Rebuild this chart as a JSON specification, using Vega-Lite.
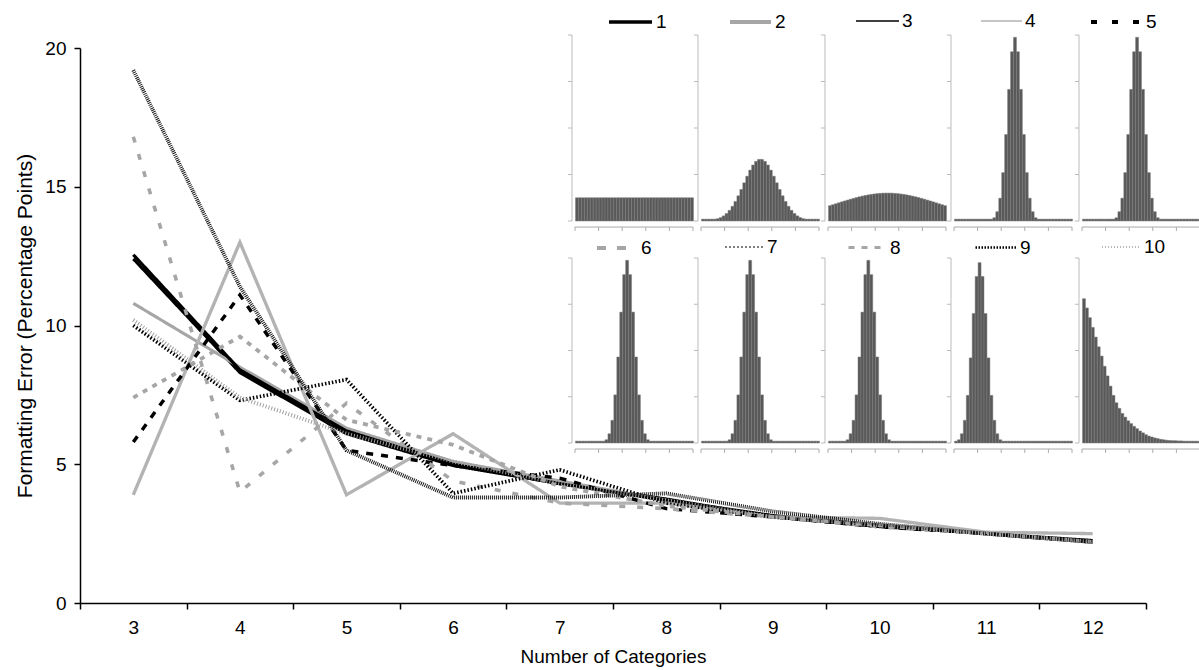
{
"$schema": "https://vega.github.io/schema/vega-lite/v6.json",
"autosize": {"type": "none"},
"padding": {"left": 80, "top": 48, "right": 53, "bottom": 67},
"width": 1066, "height": 555,
"background": "white",
"config": {"view": {"stroke": null}, "font": "Liberation Sans", "axis": {"labelFont": "Liberation Sans", "titleFont": "Liberation Sans", "grid": false}, "legend": {"labelFont": "Liberation Sans", "labelFontSize": 19, "labelColor": "#000000", "labelOffset": 2}},
"datasets": {
"yt": [{"t":0},{"t":1},{"t":2},{"t":3},{"t":4}],
"xt": [{"t":0},{"t":8},{"t":16},{"t":24},{"t":32},{"t":40}],
"lines": [
{"s":"1","n":3,"e":12.4},{"s":"1","n":4,"e":8.3},{"s":"1","n":5,"e":6.1},{"s":"1","n":6,"e":4.95},{"s":"1","n":7,"e":4.3},{"s":"1","n":8,"e":3.75},{"s":"1","n":9,"e":3.1},{"s":"1","n":10,"e":2.75},{"s":"1","n":11,"e":2.5},{"s":"1","n":12,"e":2.2},
{"s":"2","n":3,"e":10.8},{"s":"2","n":4,"e":8.5},{"s":"2","n":5,"e":6.3},{"s":"2","n":6,"e":5.1},{"s":"2","n":7,"e":4.4},{"s":"2","n":8,"e":3.7},{"s":"2","n":9,"e":3.1},{"s":"2","n":10,"e":2.8},{"s":"2","n":11,"e":2.5},{"s":"2","n":12,"e":2.2},
{"s":"3","n":3,"e":12.55},{"s":"3","n":4,"e":8.4},{"s":"3","n":5,"e":6.2},{"s":"3","n":6,"e":5.0},{"s":"3","n":7,"e":4.3},{"s":"3","n":8,"e":3.7},{"s":"3","n":9,"e":3.15},{"s":"3","n":10,"e":2.8},{"s":"3","n":11,"e":2.5},{"s":"3","n":12,"e":2.25},
{"s":"4","n":3,"e":3.9},{"s":"4","n":4,"e":13.0},{"s":"4","n":5,"e":3.9},{"s":"4","n":6,"e":6.1},{"s":"4","n":7,"e":3.6},{"s":"4","n":8,"e":3.6},{"s":"4","n":9,"e":3.1},{"s":"4","n":10,"e":3.05},{"s":"4","n":11,"e":2.55},{"s":"4","n":12,"e":2.5},
{"s":"5","n":3,"e":5.8},{"s":"5","n":4,"e":11.1},{"s":"5","n":5,"e":5.5},{"s":"5","n":6,"e":4.95},{"s":"5","n":7,"e":4.5},{"s":"5","n":8,"e":3.4},{"s":"5","n":9,"e":3.1},{"s":"5","n":10,"e":2.75},{"s":"5","n":11,"e":2.5},{"s":"5","n":12,"e":2.2},
{"s":"6","n":3,"e":16.8},{"s":"6","n":4,"e":4.0},{"s":"6","n":5,"e":7.2},{"s":"6","n":6,"e":4.4},{"s":"6","n":7,"e":3.6},{"s":"6","n":8,"e":3.4},{"s":"6","n":9,"e":3.1},{"s":"6","n":10,"e":2.75},{"s":"6","n":11,"e":2.5},{"s":"6","n":12,"e":2.2},
{"s":"7","n":3,"e":10.0},{"s":"7","n":4,"e":7.3},{"s":"7","n":5,"e":8.05},{"s":"7","n":6,"e":3.95},{"s":"7","n":7,"e":4.8},{"s":"7","n":8,"e":3.6},{"s":"7","n":9,"e":3.1},{"s":"7","n":10,"e":2.8},{"s":"7","n":11,"e":2.5},{"s":"7","n":12,"e":2.2},
{"s":"8","n":3,"e":7.4},{"s":"8","n":4,"e":9.6},{"s":"8","n":5,"e":6.6},{"s":"8","n":6,"e":5.7},{"s":"8","n":7,"e":4.2},{"s":"8","n":8,"e":3.5},{"s":"8","n":9,"e":3.1},{"s":"8","n":10,"e":2.8},{"s":"8","n":11,"e":2.5},{"s":"8","n":12,"e":2.2},
{"s":"9","n":3,"e":19.2},{"s":"9","n":4,"e":11.4},{"s":"9","n":5,"e":5.5},{"s":"9","n":6,"e":3.8},{"s":"9","n":7,"e":3.8},{"s":"9","n":8,"e":3.95},{"s":"9","n":9,"e":3.3},{"s":"9","n":10,"e":2.85},{"s":"9","n":11,"e":2.5},{"s":"9","n":12,"e":2.2},
{"s":"10","n":3,"e":10.2},{"s":"10","n":4,"e":7.4},{"s":"10","n":5,"e":6.1},{"s":"10","n":6,"e":5.1},{"s":"10","n":7,"e":4.3},{"s":"10","n":8,"e":3.7},{"s":"10","n":9,"e":3.1},{"s":"10","n":10,"e":2.8},{"s":"10","n":11,"e":2.5},{"s":"10","n":12,"e":2.2}
],
"hist": [
{"d":1,"k":0,"v":0.5},{"d":1,"k":1,"v":0.5},{"d":1,"k":2,"v":0.5},{"d":1,"k":3,"v":0.5},{"d":1,"k":4,"v":0.5},{"d":1,"k":5,"v":0.5},{"d":1,"k":6,"v":0.5},{"d":1,"k":7,"v":0.5},{"d":1,"k":8,"v":0.5},{"d":1,"k":9,"v":0.5},{"d":1,"k":10,"v":0.5},{"d":1,"k":11,"v":0.5},{"d":1,"k":12,"v":0.5},{"d":1,"k":13,"v":0.5},{"d":1,"k":14,"v":0.5},{"d":1,"k":15,"v":0.5},{"d":1,"k":16,"v":0.5},{"d":1,"k":17,"v":0.5},{"d":1,"k":18,"v":0.5},{"d":1,"k":19,"v":0.5},{"d":1,"k":20,"v":0.5},{"d":1,"k":21,"v":0.5},{"d":1,"k":22,"v":0.5},{"d":1,"k":23,"v":0.5},{"d":1,"k":24,"v":0.5},{"d":1,"k":25,"v":0.5},{"d":1,"k":26,"v":0.5},{"d":1,"k":27,"v":0.5},{"d":1,"k":28,"v":0.5},{"d":1,"k":29,"v":0.5},{"d":1,"k":30,"v":0.5},{"d":1,"k":31,"v":0.5},{"d":1,"k":32,"v":0.5},{"d":1,"k":33,"v":0.5},{"d":1,"k":34,"v":0.5},{"d":1,"k":35,"v":0.5},{"d":1,"k":36,"v":0.5},{"d":1,"k":37,"v":0.5},{"d":1,"k":38,"v":0.5},{"d":1,"k":39,"v":0.5},
{"d":2,"k":0,"v":0.04},{"d":2,"k":1,"v":0.04},{"d":2,"k":2,"v":0.04},{"d":2,"k":3,"v":0.04},{"d":2,"k":4,"v":0.04},{"d":2,"k":5,"v":0.05},{"d":2,"k":6,"v":0.073},{"d":2,"k":7,"v":0.11},{"d":2,"k":8,"v":0.161},{"d":2,"k":9,"v":0.229},{"d":2,"k":10,"v":0.316},{"d":2,"k":11,"v":0.42},{"d":2,"k":12,"v":0.542},{"d":2,"k":13,"v":0.678},{"d":2,"k":14,"v":0.821},{"d":2,"k":15,"v":0.963},{"d":2,"k":16,"v":1.094},{"d":2,"k":17,"v":1.204},{"d":2,"k":18,"v":1.283},{"d":2,"k":19,"v":1.325},{"d":2,"k":20,"v":1.325},{"d":2,"k":21,"v":1.283},{"d":2,"k":22,"v":1.204},{"d":2,"k":23,"v":1.094},{"d":2,"k":24,"v":0.963},{"d":2,"k":25,"v":0.821},{"d":2,"k":26,"v":0.678},{"d":2,"k":27,"v":0.542},{"d":2,"k":28,"v":0.42},{"d":2,"k":29,"v":0.316},{"d":2,"k":30,"v":0.229},{"d":2,"k":31,"v":0.161},{"d":2,"k":32,"v":0.11},{"d":2,"k":33,"v":0.073},{"d":2,"k":34,"v":0.05},{"d":2,"k":35,"v":0.04},{"d":2,"k":36,"v":0.04},{"d":2,"k":37,"v":0.04},{"d":2,"k":38,"v":0.04},{"d":2,"k":39,"v":0.04},
{"d":3,"k":0,"v":0.33},{"d":3,"k":1,"v":0.35},{"d":3,"k":2,"v":0.37},{"d":3,"k":3,"v":0.391},{"d":3,"k":4,"v":0.411},{"d":3,"k":5,"v":0.431},{"d":3,"k":6,"v":0.45},{"d":3,"k":7,"v":0.469},{"d":3,"k":8,"v":0.487},{"d":3,"k":9,"v":0.504},{"d":3,"k":10,"v":0.52},{"d":3,"k":11,"v":0.535},{"d":3,"k":12,"v":0.549},{"d":3,"k":13,"v":0.561},{"d":3,"k":14,"v":0.572},{"d":3,"k":15,"v":0.581},{"d":3,"k":16,"v":0.589},{"d":3,"k":17,"v":0.594},{"d":3,"k":18,"v":0.599},{"d":3,"k":19,"v":0.6},{"d":3,"k":20,"v":0.6},{"d":3,"k":21,"v":0.599},{"d":3,"k":22,"v":0.594},{"d":3,"k":23,"v":0.589},{"d":3,"k":24,"v":0.581},{"d":3,"k":25,"v":0.572},{"d":3,"k":26,"v":0.561},{"d":3,"k":27,"v":0.549},{"d":3,"k":28,"v":0.535},{"d":3,"k":29,"v":0.52},{"d":3,"k":30,"v":0.504},{"d":3,"k":31,"v":0.487},{"d":3,"k":32,"v":0.469},{"d":3,"k":33,"v":0.45},{"d":3,"k":34,"v":0.431},{"d":3,"k":35,"v":0.411},{"d":3,"k":36,"v":0.391},{"d":3,"k":37,"v":0.37},{"d":3,"k":38,"v":0.35},{"d":3,"k":39,"v":0.33},
{"d":4,"k":0,"v":0.04},{"d":4,"k":1,"v":0.04},{"d":4,"k":2,"v":0.04},{"d":4,"k":3,"v":0.04},{"d":4,"k":4,"v":0.04},{"d":4,"k":5,"v":0.04},{"d":4,"k":6,"v":0.04},{"d":4,"k":7,"v":0.04},{"d":4,"k":8,"v":0.04},{"d":4,"k":9,"v":0.04},{"d":4,"k":10,"v":0.04},{"d":4,"k":11,"v":0.04},{"d":4,"k":12,"v":0.04},{"d":4,"k":13,"v":0.07},{"d":4,"k":14,"v":0.2},{"d":4,"k":15,"v":0.49},{"d":4,"k":16,"v":1.04},{"d":4,"k":17,"v":1.86},{"d":4,"k":18,"v":2.83},{"d":4,"k":19,"v":3.64},{"d":4,"k":20,"v":3.95},{"d":4,"k":21,"v":3.64},{"d":4,"k":22,"v":2.83},{"d":4,"k":23,"v":1.86},{"d":4,"k":24,"v":1.04},{"d":4,"k":25,"v":0.49},{"d":4,"k":26,"v":0.2},{"d":4,"k":27,"v":0.07},{"d":4,"k":28,"v":0.04},{"d":4,"k":29,"v":0.04},{"d":4,"k":30,"v":0.04},{"d":4,"k":31,"v":0.04},{"d":4,"k":32,"v":0.04},{"d":4,"k":33,"v":0.04},{"d":4,"k":34,"v":0.04},{"d":4,"k":35,"v":0.04},{"d":4,"k":36,"v":0.04},{"d":4,"k":37,"v":0.04},{"d":4,"k":38,"v":0.04},{"d":4,"k":39,"v":0.04},
{"d":5,"k":0,"v":0.04},{"d":5,"k":1,"v":0.04},{"d":5,"k":2,"v":0.04},{"d":5,"k":3,"v":0.04},{"d":5,"k":4,"v":0.04},{"d":5,"k":5,"v":0.04},{"d":5,"k":6,"v":0.04},{"d":5,"k":7,"v":0.04},{"d":5,"k":8,"v":0.04},{"d":5,"k":9,"v":0.04},{"d":5,"k":10,"v":0.04},{"d":5,"k":11,"v":0.07},{"d":5,"k":12,"v":0.2},{"d":5,"k":13,"v":0.49},{"d":5,"k":14,"v":1.04},{"d":5,"k":15,"v":1.86},{"d":5,"k":16,"v":2.83},{"d":5,"k":17,"v":3.64},{"d":5,"k":18,"v":3.95},{"d":5,"k":19,"v":3.64},{"d":5,"k":20,"v":2.83},{"d":5,"k":21,"v":1.86},{"d":5,"k":22,"v":1.04},{"d":5,"k":23,"v":0.49},{"d":5,"k":24,"v":0.2},{"d":5,"k":25,"v":0.07},{"d":5,"k":26,"v":0.04},{"d":5,"k":27,"v":0.04},{"d":5,"k":28,"v":0.04},{"d":5,"k":29,"v":0.04},{"d":5,"k":30,"v":0.04},{"d":5,"k":31,"v":0.04},{"d":5,"k":32,"v":0.04},{"d":5,"k":33,"v":0.04},{"d":5,"k":34,"v":0.04},{"d":5,"k":35,"v":0.04},{"d":5,"k":36,"v":0.04},{"d":5,"k":37,"v":0.04},{"d":5,"k":38,"v":0.04},{"d":5,"k":39,"v":0.04},
{"d":6,"k":0,"v":0.04},{"d":6,"k":1,"v":0.04},{"d":6,"k":2,"v":0.04},{"d":6,"k":3,"v":0.04},{"d":6,"k":4,"v":0.04},{"d":6,"k":5,"v":0.04},{"d":6,"k":6,"v":0.04},{"d":6,"k":7,"v":0.04},{"d":6,"k":8,"v":0.04},{"d":6,"k":9,"v":0.04},{"d":6,"k":10,"v":0.07},{"d":6,"k":11,"v":0.2},{"d":6,"k":12,"v":0.49},{"d":6,"k":13,"v":1.04},{"d":6,"k":14,"v":1.86},{"d":6,"k":15,"v":2.83},{"d":6,"k":16,"v":3.64},{"d":6,"k":17,"v":3.95},{"d":6,"k":18,"v":3.64},{"d":6,"k":19,"v":2.83},{"d":6,"k":20,"v":1.86},{"d":6,"k":21,"v":1.04},{"d":6,"k":22,"v":0.49},{"d":6,"k":23,"v":0.2},{"d":6,"k":24,"v":0.07},{"d":6,"k":25,"v":0.04},{"d":6,"k":26,"v":0.04},{"d":6,"k":27,"v":0.04},{"d":6,"k":28,"v":0.04},{"d":6,"k":29,"v":0.04},{"d":6,"k":30,"v":0.04},{"d":6,"k":31,"v":0.04},{"d":6,"k":32,"v":0.04},{"d":6,"k":33,"v":0.04},{"d":6,"k":34,"v":0.04},{"d":6,"k":35,"v":0.04},{"d":6,"k":36,"v":0.04},{"d":6,"k":37,"v":0.04},{"d":6,"k":38,"v":0.04},{"d":6,"k":39,"v":0.04},
{"d":7,"k":0,"v":0.04},{"d":7,"k":1,"v":0.04},{"d":7,"k":2,"v":0.04},{"d":7,"k":3,"v":0.04},{"d":7,"k":4,"v":0.04},{"d":7,"k":5,"v":0.04},{"d":7,"k":6,"v":0.04},{"d":7,"k":7,"v":0.04},{"d":7,"k":8,"v":0.04},{"d":7,"k":9,"v":0.07},{"d":7,"k":10,"v":0.2},{"d":7,"k":11,"v":0.49},{"d":7,"k":12,"v":1.04},{"d":7,"k":13,"v":1.86},{"d":7,"k":14,"v":2.83},{"d":7,"k":15,"v":3.64},{"d":7,"k":16,"v":3.95},{"d":7,"k":17,"v":3.64},{"d":7,"k":18,"v":2.83},{"d":7,"k":19,"v":1.86},{"d":7,"k":20,"v":1.04},{"d":7,"k":21,"v":0.49},{"d":7,"k":22,"v":0.2},{"d":7,"k":23,"v":0.07},{"d":7,"k":24,"v":0.04},{"d":7,"k":25,"v":0.04},{"d":7,"k":26,"v":0.04},{"d":7,"k":27,"v":0.04},{"d":7,"k":28,"v":0.04},{"d":7,"k":29,"v":0.04},{"d":7,"k":30,"v":0.04},{"d":7,"k":31,"v":0.04},{"d":7,"k":32,"v":0.04},{"d":7,"k":33,"v":0.04},{"d":7,"k":34,"v":0.04},{"d":7,"k":35,"v":0.04},{"d":7,"k":36,"v":0.04},{"d":7,"k":37,"v":0.04},{"d":7,"k":38,"v":0.04},{"d":7,"k":39,"v":0.04},
{"d":8,"k":0,"v":0.04},{"d":8,"k":1,"v":0.04},{"d":8,"k":2,"v":0.04},{"d":8,"k":3,"v":0.04},{"d":8,"k":4,"v":0.04},{"d":8,"k":5,"v":0.04},{"d":8,"k":6,"v":0.07},{"d":8,"k":7,"v":0.2},{"d":8,"k":8,"v":0.49},{"d":8,"k":9,"v":1.04},{"d":8,"k":10,"v":1.86},{"d":8,"k":11,"v":2.83},{"d":8,"k":12,"v":3.64},{"d":8,"k":13,"v":3.95},{"d":8,"k":14,"v":3.64},{"d":8,"k":15,"v":2.83},{"d":8,"k":16,"v":1.86},{"d":8,"k":17,"v":1.04},{"d":8,"k":18,"v":0.49},{"d":8,"k":19,"v":0.2},{"d":8,"k":20,"v":0.07},{"d":8,"k":21,"v":0.04},{"d":8,"k":22,"v":0.04},{"d":8,"k":23,"v":0.04},{"d":8,"k":24,"v":0.04},{"d":8,"k":25,"v":0.04},{"d":8,"k":26,"v":0.04},{"d":8,"k":27,"v":0.04},{"d":8,"k":28,"v":0.04},{"d":8,"k":29,"v":0.04},{"d":8,"k":30,"v":0.04},{"d":8,"k":31,"v":0.04},{"d":8,"k":32,"v":0.04},{"d":8,"k":33,"v":0.04},{"d":8,"k":34,"v":0.04},{"d":8,"k":35,"v":0.04},{"d":8,"k":36,"v":0.04},{"d":8,"k":37,"v":0.04},{"d":8,"k":38,"v":0.04},{"d":8,"k":39,"v":0.04},
{"d":9,"k":0,"v":0.04},{"d":9,"k":1,"v":0.07},{"d":9,"k":2,"v":0.2},{"d":9,"k":3,"v":0.49},{"d":9,"k":4,"v":1.03},{"d":9,"k":5,"v":1.84},{"d":9,"k":6,"v":2.8},{"d":9,"k":7,"v":3.6},{"d":9,"k":8,"v":3.9},{"d":9,"k":9,"v":3.6},{"d":9,"k":10,"v":2.8},{"d":9,"k":11,"v":1.84},{"d":9,"k":12,"v":1.03},{"d":9,"k":13,"v":0.49},{"d":9,"k":14,"v":0.2},{"d":9,"k":15,"v":0.07},{"d":9,"k":16,"v":0.04},{"d":9,"k":17,"v":0.04},{"d":9,"k":18,"v":0.04},{"d":9,"k":19,"v":0.04},{"d":9,"k":20,"v":0.04},{"d":9,"k":21,"v":0.04},{"d":9,"k":22,"v":0.04},{"d":9,"k":23,"v":0.04},{"d":9,"k":24,"v":0.04},{"d":9,"k":25,"v":0.04},{"d":9,"k":26,"v":0.04},{"d":9,"k":27,"v":0.04},{"d":9,"k":28,"v":0.04},{"d":9,"k":29,"v":0.04},{"d":9,"k":30,"v":0.04},{"d":9,"k":31,"v":0.04},{"d":9,"k":32,"v":0.04},{"d":9,"k":33,"v":0.04},{"d":9,"k":34,"v":0.04},{"d":9,"k":35,"v":0.04},{"d":9,"k":36,"v":0.04},{"d":9,"k":37,"v":0.04},{"d":9,"k":38,"v":0.04},{"d":9,"k":39,"v":0.04},
{"d":10,"k":0,"v":3.12},{"d":10,"k":1,"v":2.92},{"d":10,"k":2,"v":2.71},{"d":10,"k":3,"v":2.5},{"d":10,"k":4,"v":2.29},{"d":10,"k":5,"v":2.08},{"d":10,"k":6,"v":1.88},{"d":10,"k":7,"v":1.66},{"d":10,"k":8,"v":1.45},{"d":10,"k":9,"v":1.23},{"d":10,"k":10,"v":1.03},{"d":10,"k":11,"v":0.87},{"d":10,"k":12,"v":0.75},{"d":10,"k":13,"v":0.64},{"d":10,"k":14,"v":0.56},{"d":10,"k":15,"v":0.48},{"d":10,"k":16,"v":0.42},{"d":10,"k":17,"v":0.36},{"d":10,"k":18,"v":0.31},{"d":10,"k":19,"v":0.26},{"d":10,"k":20,"v":0.22},{"d":10,"k":21,"v":0.18},{"d":10,"k":22,"v":0.15},{"d":10,"k":23,"v":0.13},{"d":10,"k":24,"v":0.11},{"d":10,"k":25,"v":0.095},{"d":10,"k":26,"v":0.08},{"d":10,"k":27,"v":0.07},{"d":10,"k":28,"v":0.06},{"d":10,"k":29,"v":0.055},{"d":10,"k":30,"v":0.05},{"d":10,"k":31,"v":0.05},{"d":10,"k":32,"v":0.045},{"d":10,"k":33,"v":0.045},{"d":10,"k":34,"v":0.04},{"d":10,"k":35,"v":0.04},{"d":10,"k":36,"v":0.04},{"d":10,"k":37,"v":0.04},{"d":10,"k":38,"v":0.04},{"d":10,"k":39,"v":0.04}
]
},
"resolve": {"scale": {"x": "independent", "y": "independent", "stroke": "independent"}, "legend": {"stroke": "independent"}},
"layer": [
{
"data": {"name": "lines"},
"mark": {"type": "line", "strokeCap": "butt"},
"encoding": {
"x": {"field": "n", "type": "ordinal", "scale": {"domain": [3,4,5,6,7,8,9,10,11,12], "paddingInner": 0, "paddingOuter": 0}, "axis": {"title": "Number of Categories", "labelAngle": 0, "tickBand": "extent", "tickSize": 6, "tickColor": "#000000", "tickWidth": 1.5, "domainColor": "#000000", "domainWidth": 1.5, "labelFontSize": 19, "titleFontSize": 19, "titleFontWeight": "normal", "labelPadding": 9, "titlePadding": 10, "labelColor": "#000000", "titleColor": "#000000"}},
"y": {"field": "e", "type": "quantitative", "scale": {"domain": [0, 20]}, "axis": {"title": "Formatting Error (Percentage Points)", "values": [0,5,10,15,20], "tickSize": 6, "tickColor": "#000000", "tickWidth": 1.5, "domainColor": "#000000", "domainWidth": 1.5, "labelFontSize": 19, "titleFontSize": 21, "titleFontWeight": "normal", "labelPadding": 8, "titlePadding": 9, "labelColor": "#000000", "titleColor": "#000000"}},
"color": {"field": "s", "type": "nominal", "scale": {"domain": ["1","2","3","4","5","6","7","8","9","10"], "range": ["#000000","#a6a6a6","#000000","#b3b3b3","#000000","#a6a6a6","#000000","#a6a6a6","#1a1a1a","#a0a0a0"]}, "legend": null},
"strokeDash": {"field": "s", "type": "nominal", "scale": {"domain": ["1","2","3","4","5","6","7","8","9","10"], "range": [[1,0],[1,0],[1,0],[1,0],[7,8],[6,12],[1.5,2],[5,6],[1,1],[1,2]]}, "legend": null},
"strokeWidth": {"field": "s", "type": "ordinal", "scale": {"domain": ["1","2","3","4","5","6","7","8","9","10"], "range": [3,4,1.3,1.3,3.5,3.5,1.1,2.5,2.5,1.3]}, "legend": null}
}
},
{"layer":[
{"data":{"name":"hist"},"transform":[{"filter":"datum.d == 1"}],"mark":{"type":"bar","fill":"#595959","stroke":"#7d7d7d","strokeWidth":0.5,"binSpacing":0},"encoding":{"x":{"field":"k","type":"quantitative","bin":{"binned":true,"step":1},"scale":{"domain":[0,40],"range":[495,613]},"axis":null},"y":{"field":"v","type":"quantitative","scale":{"domain":[0,4],"range":[173,-13]},"axis":null}}},
{"data":{"name":"yt"},"mark":{"type":"rule","color":"#bbbbbb"},"encoding":{"x":{"datum":-1.02,"type":"quantitative","scale":{"domain":[0,40],"range":[495,613]},"axis":null},"y":{"aggregate":"min","field":"t","type":"quantitative","scale":{"domain":[0,4],"range":[173,-13]},"axis":null},"y2":{"aggregate":"max","field":"t"}}},
{"data":{"name":"yt"},"mark":{"type":"rule","color":"#bbbbbb"},"encoding":{"x":{"datum":-1.02,"type":"quantitative","scale":{"domain":[0,40],"range":[495,613]},"axis":null},"x2":{"datum":-2.4},"y":{"field":"t","type":"quantitative","scale":{"domain":[0,4],"range":[173,-13]},"axis":null}}},
{"data":{"name":"xt"},"mark":{"type":"rule","color":"#aaaaaa"},"encoding":{"x":{"aggregate":"min","field":"t","type":"quantitative","scale":{"domain":[0,40],"range":[495,613]},"axis":null},"x2":{"aggregate":"max","field":"t"},"y":{"datum":-0.13,"type":"quantitative","scale":{"domain":[0,4],"range":[173,-13]},"axis":null}}},
{"data":{"name":"xt"},"mark":{"type":"rule","color":"#aaaaaa"},"encoding":{"x":{"field":"t","type":"quantitative","scale":{"domain":[0,40],"range":[495,613]},"axis":null},"y":{"datum":-0.13,"type":"quantitative","scale":{"domain":[0,4],"range":[173,-13]},"axis":null},"y2":{"datum":-0.215}}},
{"data":{"values":[]},"mark":"line","encoding":{"stroke":{"field":"s","type":"nominal","scale":{"domain":["1"],"range":["#000000"]},"legend":{"orient":"none","legendX":527,"legendY":-49.5,"title":null,"symbolType":"stroke","symbolSize":1849,"symbolStrokeWidth":3.5,"padding":0}}}}]},
{"layer":[
{"data":{"name":"hist"},"transform":[{"filter":"datum.d == 2"}],"mark":{"type":"bar","fill":"#595959","stroke":"#7d7d7d","strokeWidth":0.5,"binSpacing":0},"encoding":{"x":{"field":"k","type":"quantitative","bin":{"binned":true,"step":1},"scale":{"domain":[0,40],"range":[621,739]},"axis":null},"y":{"field":"v","type":"quantitative","scale":{"domain":[0,4],"range":[173,-13]},"axis":null}}},
{"data":{"name":"yt"},"mark":{"type":"rule","color":"#bbbbbb"},"encoding":{"x":{"datum":-1.02,"type":"quantitative","scale":{"domain":[0,40],"range":[621,739]},"axis":null},"y":{"aggregate":"min","field":"t","type":"quantitative","scale":{"domain":[0,4],"range":[173,-13]},"axis":null},"y2":{"aggregate":"max","field":"t"}}},
{"data":{"name":"yt"},"mark":{"type":"rule","color":"#bbbbbb"},"encoding":{"x":{"datum":-1.02,"type":"quantitative","scale":{"domain":[0,40],"range":[621,739]},"axis":null},"x2":{"datum":-2.4},"y":{"field":"t","type":"quantitative","scale":{"domain":[0,4],"range":[173,-13]},"axis":null}}},
{"data":{"name":"xt"},"mark":{"type":"rule","color":"#aaaaaa"},"encoding":{"x":{"aggregate":"min","field":"t","type":"quantitative","scale":{"domain":[0,40],"range":[621,739]},"axis":null},"x2":{"aggregate":"max","field":"t"},"y":{"datum":-0.13,"type":"quantitative","scale":{"domain":[0,4],"range":[173,-13]},"axis":null}}},
{"data":{"name":"xt"},"mark":{"type":"rule","color":"#aaaaaa"},"encoding":{"x":{"field":"t","type":"quantitative","scale":{"domain":[0,40],"range":[621,739]},"axis":null},"y":{"datum":-0.13,"type":"quantitative","scale":{"domain":[0,4],"range":[173,-13]},"axis":null},"y2":{"datum":-0.215}}},
{"data":{"values":[]},"mark":"line","encoding":{"stroke":{"field":"s","type":"nominal","scale":{"domain":["2"],"range":["#a6a6a6"]},"legend":{"orient":"none","legendX":648,"legendY":-48.5,"title":null,"symbolType":"stroke","symbolSize":1681,"symbolStrokeWidth":4,"padding":0}}}}]},
{"layer":[
{"data":{"name":"hist"},"transform":[{"filter":"datum.d == 3"}],"mark":{"type":"bar","fill":"#595959","stroke":"#7d7d7d","strokeWidth":0.5,"binSpacing":0},"encoding":{"x":{"field":"k","type":"quantitative","bin":{"binned":true,"step":1},"scale":{"domain":[0,40],"range":[748,866]},"axis":null},"y":{"field":"v","type":"quantitative","scale":{"domain":[0,4],"range":[173,-13]},"axis":null}}},
{"data":{"name":"yt"},"mark":{"type":"rule","color":"#bbbbbb"},"encoding":{"x":{"datum":-1.02,"type":"quantitative","scale":{"domain":[0,40],"range":[748,866]},"axis":null},"y":{"aggregate":"min","field":"t","type":"quantitative","scale":{"domain":[0,4],"range":[173,-13]},"axis":null},"y2":{"aggregate":"max","field":"t"}}},
{"data":{"name":"yt"},"mark":{"type":"rule","color":"#bbbbbb"},"encoding":{"x":{"datum":-1.02,"type":"quantitative","scale":{"domain":[0,40],"range":[748,866]},"axis":null},"x2":{"datum":-2.4},"y":{"field":"t","type":"quantitative","scale":{"domain":[0,4],"range":[173,-13]},"axis":null}}},
{"data":{"name":"xt"},"mark":{"type":"rule","color":"#aaaaaa"},"encoding":{"x":{"aggregate":"min","field":"t","type":"quantitative","scale":{"domain":[0,40],"range":[748,866]},"axis":null},"x2":{"aggregate":"max","field":"t"},"y":{"datum":-0.13,"type":"quantitative","scale":{"domain":[0,4],"range":[173,-13]},"axis":null}}},
{"data":{"name":"xt"},"mark":{"type":"rule","color":"#aaaaaa"},"encoding":{"x":{"field":"t","type":"quantitative","scale":{"domain":[0,40],"range":[748,866]},"axis":null},"y":{"datum":-0.13,"type":"quantitative","scale":{"domain":[0,4],"range":[173,-13]},"axis":null},"y2":{"datum":-0.215}}},
{"data":{"values":[]},"mark":"line","encoding":{"stroke":{"field":"s","type":"nominal","scale":{"domain":["3"],"range":["#000000"]},"legend":{"orient":"none","legendX":775,"legendY":-49.5,"title":null,"symbolType":"stroke","symbolSize":1849,"symbolStrokeWidth":1.5,"padding":0}}}}]},
{"layer":[
{"data":{"name":"hist"},"transform":[{"filter":"datum.d == 4"}],"mark":{"type":"bar","fill":"#595959","stroke":"#7d7d7d","strokeWidth":0.5,"binSpacing":0},"encoding":{"x":{"field":"k","type":"quantitative","bin":{"binned":true,"step":1},"scale":{"domain":[0,40],"range":[874,992]},"axis":null},"y":{"field":"v","type":"quantitative","scale":{"domain":[0,4],"range":[173,-13]},"axis":null}}},
{"data":{"name":"yt"},"mark":{"type":"rule","color":"#bbbbbb"},"encoding":{"x":{"datum":-1.02,"type":"quantitative","scale":{"domain":[0,40],"range":[874,992]},"axis":null},"y":{"aggregate":"min","field":"t","type":"quantitative","scale":{"domain":[0,4],"range":[173,-13]},"axis":null},"y2":{"aggregate":"max","field":"t"}}},
{"data":{"name":"yt"},"mark":{"type":"rule","color":"#bbbbbb"},"encoding":{"x":{"datum":-1.02,"type":"quantitative","scale":{"domain":[0,40],"range":[874,992]},"axis":null},"x2":{"datum":-2.4},"y":{"field":"t","type":"quantitative","scale":{"domain":[0,4],"range":[173,-13]},"axis":null}}},
{"data":{"name":"xt"},"mark":{"type":"rule","color":"#aaaaaa"},"encoding":{"x":{"aggregate":"min","field":"t","type":"quantitative","scale":{"domain":[0,40],"range":[874,992]},"axis":null},"x2":{"aggregate":"max","field":"t"},"y":{"datum":-0.13,"type":"quantitative","scale":{"domain":[0,4],"range":[173,-13]},"axis":null}}},
{"data":{"name":"xt"},"mark":{"type":"rule","color":"#aaaaaa"},"encoding":{"x":{"field":"t","type":"quantitative","scale":{"domain":[0,40],"range":[874,992]},"axis":null},"y":{"datum":-0.13,"type":"quantitative","scale":{"domain":[0,4],"range":[173,-13]},"axis":null},"y2":{"datum":-0.215}}},
{"data":{"values":[]},"mark":"line","encoding":{"stroke":{"field":"s","type":"nominal","scale":{"domain":["4"],"range":["#b3b3b3"]},"legend":{"orient":"none","legendX":900,"legendY":-48.5,"title":null,"symbolType":"stroke","symbolSize":1681,"symbolStrokeWidth":1.3,"padding":0}}}}]},
{"layer":[
{"data":{"name":"hist"},"transform":[{"filter":"datum.d == 5"}],"mark":{"type":"bar","fill":"#595959","stroke":"#7d7d7d","strokeWidth":0.5,"binSpacing":0},"encoding":{"x":{"field":"k","type":"quantitative","bin":{"binned":true,"step":1},"scale":{"domain":[0,40],"range":[1002,1120]},"axis":null},"y":{"field":"v","type":"quantitative","scale":{"domain":[0,4],"range":[173,-13]},"axis":null}}},
{"data":{"name":"yt"},"mark":{"type":"rule","color":"#bbbbbb"},"encoding":{"x":{"datum":-1.02,"type":"quantitative","scale":{"domain":[0,40],"range":[1002,1120]},"axis":null},"y":{"aggregate":"min","field":"t","type":"quantitative","scale":{"domain":[0,4],"range":[173,-13]},"axis":null},"y2":{"aggregate":"max","field":"t"}}},
{"data":{"name":"yt"},"mark":{"type":"rule","color":"#bbbbbb"},"encoding":{"x":{"datum":-1.02,"type":"quantitative","scale":{"domain":[0,40],"range":[1002,1120]},"axis":null},"x2":{"datum":-2.4},"y":{"field":"t","type":"quantitative","scale":{"domain":[0,4],"range":[173,-13]},"axis":null}}},
{"data":{"name":"xt"},"mark":{"type":"rule","color":"#aaaaaa"},"encoding":{"x":{"aggregate":"min","field":"t","type":"quantitative","scale":{"domain":[0,40],"range":[1002,1120]},"axis":null},"x2":{"aggregate":"max","field":"t"},"y":{"datum":-0.13,"type":"quantitative","scale":{"domain":[0,4],"range":[173,-13]},"axis":null}}},
{"data":{"name":"xt"},"mark":{"type":"rule","color":"#aaaaaa"},"encoding":{"x":{"field":"t","type":"quantitative","scale":{"domain":[0,40],"range":[1002,1120]},"axis":null},"y":{"datum":-0.13,"type":"quantitative","scale":{"domain":[0,4],"range":[173,-13]},"axis":null},"y2":{"datum":-0.215}}},
{"data":{"values":[]},"mark":"line","encoding":{"stroke":{"field":"s","type":"nominal","scale":{"domain":["5"],"range":["#000000"]},"legend":{"orient":"none","legendX":1009,"legendY":-53.5,"title":null,"symbolType":"stroke","symbolSize":2601,"symbolStrokeWidth":4,"symbolDash":[6,15],"padding":0}}}}]},
{"layer":[
{"data":{"name":"hist"},"transform":[{"filter":"datum.d == 6"}],"mark":{"type":"bar","fill":"#595959","stroke":"#7d7d7d","strokeWidth":0.5,"binSpacing":0},"encoding":{"x":{"field":"k","type":"quantitative","bin":{"binned":true,"step":1},"scale":{"domain":[0,40],"range":[495,613]},"axis":null},"y":{"field":"v","type":"quantitative","scale":{"domain":[0,4],"range":[395,210]},"axis":null}}},
{"data":{"name":"yt"},"mark":{"type":"rule","color":"#bbbbbb"},"encoding":{"x":{"datum":-1.02,"type":"quantitative","scale":{"domain":[0,40],"range":[495,613]},"axis":null},"y":{"aggregate":"min","field":"t","type":"quantitative","scale":{"domain":[0,4],"range":[395,210]},"axis":null},"y2":{"aggregate":"max","field":"t"}}},
{"data":{"name":"yt"},"mark":{"type":"rule","color":"#bbbbbb"},"encoding":{"x":{"datum":-1.02,"type":"quantitative","scale":{"domain":[0,40],"range":[495,613]},"axis":null},"x2":{"datum":-2.4},"y":{"field":"t","type":"quantitative","scale":{"domain":[0,4],"range":[395,210]},"axis":null}}},
{"data":{"name":"xt"},"mark":{"type":"rule","color":"#aaaaaa"},"encoding":{"x":{"aggregate":"min","field":"t","type":"quantitative","scale":{"domain":[0,40],"range":[495,613]},"axis":null},"x2":{"aggregate":"max","field":"t"},"y":{"datum":-0.13,"type":"quantitative","scale":{"domain":[0,4],"range":[395,210]},"axis":null}}},
{"data":{"name":"xt"},"mark":{"type":"rule","color":"#aaaaaa"},"encoding":{"x":{"field":"t","type":"quantitative","scale":{"domain":[0,40],"range":[495,613]},"axis":null},"y":{"datum":-0.13,"type":"quantitative","scale":{"domain":[0,4],"range":[395,210]},"axis":null},"y2":{"datum":-0.215}}},
{"data":{"values":[]},"mark":"line","encoding":{"stroke":{"field":"s","type":"nominal","scale":{"domain":["6"],"range":["#a6a6a6"]},"legend":{"orient":"none","legendX":515,"legendY":178,"title":null,"symbolType":"stroke","symbolSize":1600,"symbolStrokeWidth":4,"symbolDash":[9,11],"padding":0}}}}]},
{"layer":[
{"data":{"name":"hist"},"transform":[{"filter":"datum.d == 7"}],"mark":{"type":"bar","fill":"#595959","stroke":"#7d7d7d","strokeWidth":0.5,"binSpacing":0},"encoding":{"x":{"field":"k","type":"quantitative","bin":{"binned":true,"step":1},"scale":{"domain":[0,40],"range":[621,739]},"axis":null},"y":{"field":"v","type":"quantitative","scale":{"domain":[0,4],"range":[395,210]},"axis":null}}},
{"data":{"name":"yt"},"mark":{"type":"rule","color":"#bbbbbb"},"encoding":{"x":{"datum":-1.02,"type":"quantitative","scale":{"domain":[0,40],"range":[621,739]},"axis":null},"y":{"aggregate":"min","field":"t","type":"quantitative","scale":{"domain":[0,4],"range":[395,210]},"axis":null},"y2":{"aggregate":"max","field":"t"}}},
{"data":{"name":"yt"},"mark":{"type":"rule","color":"#bbbbbb"},"encoding":{"x":{"datum":-1.02,"type":"quantitative","scale":{"domain":[0,40],"range":[621,739]},"axis":null},"x2":{"datum":-2.4},"y":{"field":"t","type":"quantitative","scale":{"domain":[0,4],"range":[395,210]},"axis":null}}},
{"data":{"name":"xt"},"mark":{"type":"rule","color":"#aaaaaa"},"encoding":{"x":{"aggregate":"min","field":"t","type":"quantitative","scale":{"domain":[0,40],"range":[621,739]},"axis":null},"x2":{"aggregate":"max","field":"t"},"y":{"datum":-0.13,"type":"quantitative","scale":{"domain":[0,4],"range":[395,210]},"axis":null}}},
{"data":{"name":"xt"},"mark":{"type":"rule","color":"#aaaaaa"},"encoding":{"x":{"field":"t","type":"quantitative","scale":{"domain":[0,40],"range":[621,739]},"axis":null},"y":{"datum":-0.13,"type":"quantitative","scale":{"domain":[0,4],"range":[395,210]},"axis":null},"y2":{"datum":-0.215}}},
{"data":{"values":[]},"mark":"line","encoding":{"stroke":{"field":"s","type":"nominal","scale":{"domain":["7"],"range":["#000000"]},"legend":{"orient":"none","legendX":644,"legendY":178.5,"title":null,"symbolType":"stroke","symbolSize":1521,"symbolStrokeWidth":1.2,"symbolDash":[2,2],"padding":0}}}}]},
{"layer":[
{"data":{"name":"hist"},"transform":[{"filter":"datum.d == 8"}],"mark":{"type":"bar","fill":"#595959","stroke":"#7d7d7d","strokeWidth":0.5,"binSpacing":0},"encoding":{"x":{"field":"k","type":"quantitative","bin":{"binned":true,"step":1},"scale":{"domain":[0,40],"range":[748,866]},"axis":null},"y":{"field":"v","type":"quantitative","scale":{"domain":[0,4],"range":[395,210]},"axis":null}}},
{"data":{"name":"yt"},"mark":{"type":"rule","color":"#bbbbbb"},"encoding":{"x":{"datum":-1.02,"type":"quantitative","scale":{"domain":[0,40],"range":[748,866]},"axis":null},"y":{"aggregate":"min","field":"t","type":"quantitative","scale":{"domain":[0,4],"range":[395,210]},"axis":null},"y2":{"aggregate":"max","field":"t"}}},
{"data":{"name":"yt"},"mark":{"type":"rule","color":"#bbbbbb"},"encoding":{"x":{"datum":-1.02,"type":"quantitative","scale":{"domain":[0,40],"range":[748,866]},"axis":null},"x2":{"datum":-2.4},"y":{"field":"t","type":"quantitative","scale":{"domain":[0,4],"range":[395,210]},"axis":null}}},
{"data":{"name":"xt"},"mark":{"type":"rule","color":"#aaaaaa"},"encoding":{"x":{"aggregate":"min","field":"t","type":"quantitative","scale":{"domain":[0,40],"range":[748,866]},"axis":null},"x2":{"aggregate":"max","field":"t"},"y":{"datum":-0.13,"type":"quantitative","scale":{"domain":[0,4],"range":[395,210]},"axis":null}}},
{"data":{"name":"xt"},"mark":{"type":"rule","color":"#aaaaaa"},"encoding":{"x":{"field":"t","type":"quantitative","scale":{"domain":[0,40],"range":[748,866]},"axis":null},"y":{"datum":-0.13,"type":"quantitative","scale":{"domain":[0,4],"range":[395,210]},"axis":null},"y2":{"datum":-0.215}}},
{"data":{"values":[]},"mark":"line","encoding":{"stroke":{"field":"s","type":"nominal","scale":{"domain":["8"],"range":["#a6a6a6"]},"legend":{"orient":"none","legendX":767,"legendY":179,"title":null,"symbolType":"stroke","symbolSize":1444,"symbolStrokeWidth":3,"symbolDash":[6,7],"padding":0}}}}]},
{"layer":[
{"data":{"name":"hist"},"transform":[{"filter":"datum.d == 9"}],"mark":{"type":"bar","fill":"#595959","stroke":"#7d7d7d","strokeWidth":0.5,"binSpacing":0},"encoding":{"x":{"field":"k","type":"quantitative","bin":{"binned":true,"step":1},"scale":{"domain":[0,40],"range":[874,992]},"axis":null},"y":{"field":"v","type":"quantitative","scale":{"domain":[0,4],"range":[395,210]},"axis":null}}},
{"data":{"name":"yt"},"mark":{"type":"rule","color":"#bbbbbb"},"encoding":{"x":{"datum":-1.02,"type":"quantitative","scale":{"domain":[0,40],"range":[874,992]},"axis":null},"y":{"aggregate":"min","field":"t","type":"quantitative","scale":{"domain":[0,4],"range":[395,210]},"axis":null},"y2":{"aggregate":"max","field":"t"}}},
{"data":{"name":"yt"},"mark":{"type":"rule","color":"#bbbbbb"},"encoding":{"x":{"datum":-1.02,"type":"quantitative","scale":{"domain":[0,40],"range":[874,992]},"axis":null},"x2":{"datum":-2.4},"y":{"field":"t","type":"quantitative","scale":{"domain":[0,4],"range":[395,210]},"axis":null}}},
{"data":{"name":"xt"},"mark":{"type":"rule","color":"#aaaaaa"},"encoding":{"x":{"aggregate":"min","field":"t","type":"quantitative","scale":{"domain":[0,40],"range":[874,992]},"axis":null},"x2":{"aggregate":"max","field":"t"},"y":{"datum":-0.13,"type":"quantitative","scale":{"domain":[0,4],"range":[395,210]},"axis":null}}},
{"data":{"name":"xt"},"mark":{"type":"rule","color":"#aaaaaa"},"encoding":{"x":{"field":"t","type":"quantitative","scale":{"domain":[0,40],"range":[874,992]},"axis":null},"y":{"datum":-0.13,"type":"quantitative","scale":{"domain":[0,4],"range":[395,210]},"axis":null},"y2":{"datum":-0.215}}},
{"data":{"values":[]},"mark":"line","encoding":{"stroke":{"field":"s","type":"nominal","scale":{"domain":["9"],"range":["#000000"]},"legend":{"orient":"none","legendX":894,"legendY":177.5,"title":null,"symbolType":"stroke","symbolSize":1681,"symbolStrokeWidth":2.5,"symbolDash":[1.5,1.5],"padding":0}}}}]},
{"layer":[
{"data":{"name":"hist"},"transform":[{"filter":"datum.d == 10"}],"mark":{"type":"bar","fill":"#595959","stroke":"#7d7d7d","strokeWidth":0.5,"binSpacing":0},"encoding":{"x":{"field":"k","type":"quantitative","bin":{"binned":true,"step":1},"scale":{"domain":[0,40],"range":[1002,1120]},"axis":null},"y":{"field":"v","type":"quantitative","scale":{"domain":[0,4],"range":[395,210]},"axis":null}}},
{"data":{"name":"yt"},"mark":{"type":"rule","color":"#bbbbbb"},"encoding":{"x":{"datum":-1.02,"type":"quantitative","scale":{"domain":[0,40],"range":[1002,1120]},"axis":null},"y":{"aggregate":"min","field":"t","type":"quantitative","scale":{"domain":[0,4],"range":[395,210]},"axis":null},"y2":{"aggregate":"max","field":"t"}}},
{"data":{"name":"yt"},"mark":{"type":"rule","color":"#bbbbbb"},"encoding":{"x":{"datum":-1.02,"type":"quantitative","scale":{"domain":[0,40],"range":[1002,1120]},"axis":null},"x2":{"datum":-2.4},"y":{"field":"t","type":"quantitative","scale":{"domain":[0,4],"range":[395,210]},"axis":null}}},
{"data":{"name":"xt"},"mark":{"type":"rule","color":"#aaaaaa"},"encoding":{"x":{"aggregate":"min","field":"t","type":"quantitative","scale":{"domain":[0,40],"range":[1002,1120]},"axis":null},"x2":{"aggregate":"max","field":"t"},"y":{"datum":-0.13,"type":"quantitative","scale":{"domain":[0,4],"range":[395,210]},"axis":null}}},
{"data":{"name":"xt"},"mark":{"type":"rule","color":"#aaaaaa"},"encoding":{"x":{"field":"t","type":"quantitative","scale":{"domain":[0,40],"range":[1002,1120]},"axis":null},"y":{"datum":-0.13,"type":"quantitative","scale":{"domain":[0,4],"range":[395,210]},"axis":null},"y2":{"datum":-0.215}}},
{"data":{"values":[]},"mark":"line","encoding":{"stroke":{"field":"s","type":"nominal","scale":{"domain":["10"],"range":["#a0a0a0"]},"legend":{"orient":"none","legendX":1021,"legendY":178.5,"title":null,"symbolType":"stroke","symbolSize":1521,"symbolStrokeWidth":1.3,"symbolDash":[1,2],"padding":0}}}}]}
]
}
